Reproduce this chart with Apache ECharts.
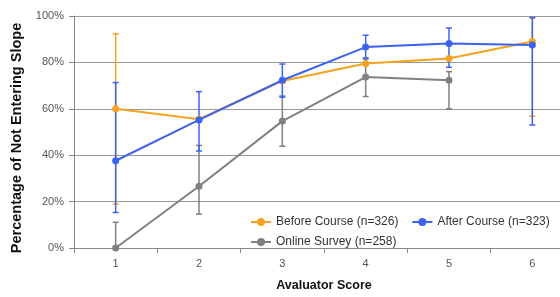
<!DOCTYPE html>
<html><head><meta charset="utf-8">
<script src="https://cdn.jsdelivr.net/npm/echarts@6/dist/echarts.min.js"></script>
<style>html,body{margin:0;padding:0;background:#fff;overflow:hidden;width:560px;height:297px}#c{width:574px;height:297px}</style>
</head><body><div id="c"></div>
<script>
const categories = ['1','2','3','4','5','6'];
const yTicks = [0,20,40,60,80,100];
const beforeVals = [60, 55.5, 72, 79.5, 81.7, 89];
const afterVals = [37.6, 55.2, 72.3, 86.6, 88.2, 87.5];
const onlineVals = [0, 26.6, 54.7, 73.7, 72.3, null];
const beforeLow = [18.9, null, null, null, null, 56.8];
const beforeHigh = [92.3, null, null, null, null, 99];
const afterLow = [15.3, 41.8, 65, 81.5, 77.9, 53];
const afterHigh = [71.3, 67.4, 79.3, 91.7, 94.8, 99.4];
const onlineLow = [0, 14.6, 43.9, 65.3, 60, null];
const onlineHigh = [11.1, 44.2, 65.5, 82, 76, null];
const names = ['Before Course (n=326)', 'After Course (n=323)', 'Online Survey (n=258)'];
const colors = ['#F7A21E', '#3B63F2', '#808080'];

function errData(low, high){
  const out=[];
  for(let i=0;i<low.length;i++){ if(low[i]!=null && high[i]!=null) out.push([i, low[i], high[i]]); }
  return out;
}
function errSeries(low, high, color){
  return {
    type:'custom', silent:true, z:1,
    data: errData(low, high),
    encode:{x:0, y:[1,2]},
    renderItem:function(params, api){
      const x = api.value(0);
      const lo = api.coord([x, api.value(1)]);
      const hi = api.coord([x, api.value(2)]);
      const hw = 3;
      const st = {stroke: color, lineWidth: 1.5};
      return {type:'group', children:[
        {type:'line', shape:{x1:lo[0], y1:lo[1], x2:hi[0], y2:hi[1]}, style:st},
        {type:'line', shape:{x1:lo[0]-hw, y1:lo[1], x2:lo[0]+hw, y2:lo[1]}, style:st},
        {type:'line', shape:{x1:hi[0]-hw, y1:hi[1], x2:hi[0]+hw, y2:hi[1]}, style:st}
      ]};
    }
  };
}
function lineSeries(name, data, color, z){
  return {name:name, type:'line', data:data, z:z, color:color,
    symbol:'circle', symbolSize:7, showSymbol:true,
    lineStyle:{width:2, color:color}, itemStyle:{color:color}, connectNulls:false};
}
const chart = echarts.init(document.getElementById('c'), null, {renderer:'canvas'});
const font = 'Liberation Sans, Arial, sans-serif';
chart.setOption({
  animation:false,
  textStyle:{fontFamily:font},
  grid:{left:74, right:0, top:16, bottom:44},
  legend:[
    {data:[names[0], names[1]], left:245, top:211, itemGap:13, itemWidth:20, itemHeight:10,
     textStyle:{fontFamily:font, fontSize:12, color:'#333'}},
    {data:[names[2]], left:245, top:231, itemWidth:20, itemHeight:10,
     textStyle:{fontFamily:font, fontSize:12, color:'#333'}}
  ],
  xAxis:{type:'category', data:categories, boundaryGap:true,
    name:'Avaluator Score', nameLocation:'middle', nameGap:31,
    nameTextStyle:{fontFamily:font, fontSize:12.5, fontWeight:'bold', color:'#111'},
    axisLine:{lineStyle:{color:'#888'}}, axisTick:{show:true, length:5, lineStyle:{color:'#888'}},
    axisLabel:{fontFamily:font, fontSize:11, color:'#555', margin:10},
    splitLine:{show:false}},
  yAxis:{type:'value', min:yTicks[0], max:yTicks[yTicks.length-1], interval:20,
    name:'Percentage of Not Entering Slope', nameLocation:'middle', nameGap:45,
    nameTextStyle:{fontFamily:font, fontSize:14.5, fontWeight:'bold', color:'#111', padding:[0,12,0,0]},
    axisLine:{show:true, lineStyle:{color:'#888'}}, axisTick:{show:true, length:5, lineStyle:{color:'#888'}},
    axisLabel:{fontFamily:font, fontSize:11, color:'#555', margin:10, formatter:'{value}%'},
    splitLine:{show:true, lineStyle:{color:'#999', width:1}}},
  series:[
    errSeries(onlineLow, onlineHigh, colors[2]),
    errSeries(beforeLow, beforeHigh, colors[0]),
    errSeries(afterLow, afterHigh, colors[1]),
    lineSeries(names[2], onlineVals, colors[2], 2),
    lineSeries(names[0], beforeVals, colors[0], 3),
    lineSeries(names[1], afterVals, colors[1], 4)
  ]
});
</script></body></html>
